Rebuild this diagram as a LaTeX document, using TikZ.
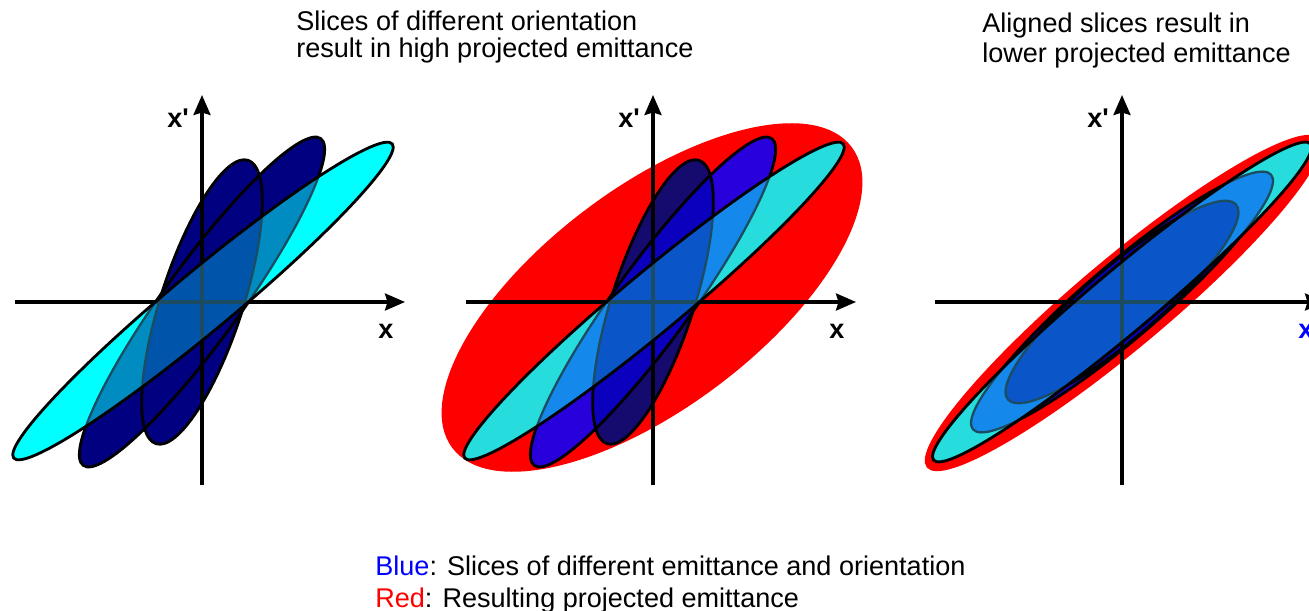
\documentclass[tikz,border=0pt]{standalone}
\usepackage{fontspec}
\setsansfont{Liberation Sans}
\usepackage{xcolor}
\definecolor{oneC}  {HTML}{00FFFF}
\definecolor{oneW}  {HTML}{000080}
\definecolor{oneT}  {HTML}{000080}
\definecolor{oneWT} {HTML}{000080}
\definecolor{oneCW} {HTML}{008CC0}
\definecolor{oneCWT}{HTML}{0055AA}
\definecolor{twoC}  {HTML}{26DCDC}
\definecolor{twoW}  {HTML}{2800DC}
\definecolor{twoT}  {HTML}{150A6E}
\definecolor{twoWT} {HTML}{0A00BE}
\definecolor{twoCW} {HTML}{1488EB}
\definecolor{twoCWT}{HTML}{0A55C8}
\definecolor{SeamTeal}{HTML}{1C4C62}
\definecolor{ProjRed} {HTML}{FF0000}
\definecolor{KeyBlue} {HTML}{0000FF}
\usetikzlibrary{arrows.meta}
% slice shapes, rotated slices and aligned slices
\newcommand{\tiltCyan}{(1,1) ellipse[x radius=246,y radius=30,rotate=39.7]}
\newcommand{\tiltWide}{(0,0) ellipse[x radius=202,y radius=38,rotate=54]}
\newcommand{\tiltTall}{(0,0) ellipse[x radius=149,y radius=41,rotate=72]}
\newcommand{\alignCyan}{(0,0) ellipse[x radius=246,y radius=31,rotate=40]}
\newcommand{\alignWide}{(0,0) ellipse[x radius=196,y radius=37,rotate=40.5]}
\newcommand{\alignTall}{(0,0) ellipse[x radius=150,y radius=36,rotate=40.5]}
% #1 colour prefix, #2 cyan slice, #3 wide slice, #4 tall slice
\newcommand{\slicepanel}[4]{%
  \fill[#1W] #3; \fill[#1T] #4;
  \begin{scope}\clip #3; \fill[#1WT] #4; \end{scope}
  \draw[rim] #3; \draw[rim] #4;
  \draw[axisline] (-187,0) -- (203,0);
  \draw[axisline] (0,-183) -- (0,207);
  \fill[#1C] #2;
  \begin{scope}
    \clip #2;
    \fill[#1CW] #3; \fill[#1CW] #4;
    \begin{scope}\clip #3; \fill[#1CWT] #4; \end{scope}
    \draw[seam] #3; \draw[seam] #4;
    \draw[seam,line width=1.8pt] (-187,0) -- (203,0) (0,-183) -- (0,207);
  \end{scope}
  \draw[rim] #2;}

\begin{document}
\begin{tikzpicture}[x=0.02cm,y=0.02cm,
  rim/.style={black,line width=1.6pt},
  seam/.style={SeamTeal,line width=1.3pt},
  axisline/.style={black,line width=1.8pt,
    -{Stealth[length=0.4cm,width=0.34cm,inset=0.05cm]}},
  head/.style={font=\sffamily\fontsize{15.4}{17}\selectfont,inner sep=0pt,anchor=base west},
  lbl/.style={font=\sffamily\bfseries\fontsize{15.4}{17}\selectfont,inner sep=0pt,anchor=base west}]
  \path[use as bounding box] (0,0) rectangle (1309,-611);
  \clip (0,0) rectangle (1309,-611);
  % Rotated slices
  \begin{scope}[shift={(202,-302)}]
    \slicepanel{one}{\tiltCyan}{\tiltWide}{\tiltTall}
    \node[lbl] (xp1) at (-35,174) {x\textquotesingle};
    \node[lbl] (x1) at (176,-36) {x};
  \end{scope}
  % Rotated slices with projection
  \begin{scope}[shift={(653,-302)}]
    \fill[ProjRed] (-1,4.5) ellipse[x radius=250,y radius=110,rotate=37];
    \slicepanel{two}{\tiltCyan}{\tiltWide}{\tiltTall}
    \node[lbl] (xp2) at (-35,174) {x\textquotesingle};
    \node[lbl] (x2) at (176,-36) {x};
  \end{scope}
  % Aligned slices with projection
  \begin{scope}[shift={(1122,-302)}]
    \fill[ProjRed] (1,-1) ellipse[x radius=256,y radius=45,rotate=40];
    \slicepanel{two}{\alignCyan}{\alignWide}{\alignTall}
    \node[lbl] (xp3) at (-35,174) {x\textquotesingle};
    \node[lbl,KeyBlue] (x3) at (176,-36) {x};
  \end{scope}
  % Titles and key
  \node[head] (headA) at (296,-31) {Slices of different orientation};
  \node[head] (headB) at (296,-58) {result in high projected emittance};
  \node[head] (headC) at (982,-33) {Aligned slices result in};
  \node[head] (headD) at (982,-63) {lower projected emittance};
  \node[head] (keyA) at (375,-575)
    {\textcolor{KeyBlue}{Blue}: Slices of different emittance and orientation};
  \node[head] (keyB) at (375,-607)
    {\textcolor{ProjRed}{Red}: Resulting projected emittance};
\end{tikzpicture}
\end{document}
